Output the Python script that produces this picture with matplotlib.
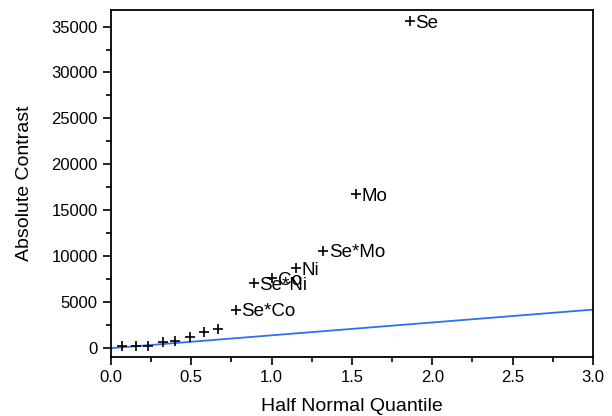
import matplotlib
matplotlib.use('Agg')
import matplotlib.pyplot as plt
from matplotlib.ticker import MultipleLocator

plt.rcParams['font.family'] = ['Liberation Sans', 'DejaVu Sans']

# unlabeled effects
small_q = [0.070, 0.157, 0.234, 0.322, 0.400, 0.491, 0.578, 0.669]
small_c = [250, 250, 250, 690, 830, 1260, 1740, 2090]

# labeled effects
names = ['Se*Co', 'Se*Ni', 'Co', 'Ni', 'Se*Mo', 'Mo', 'Se']
big_q = [0.778, 0.888, 1.006, 1.151, 1.321, 1.528, 1.859]
big_c = [4170, 7070, 7620, 8700, 10620, 16770, 35610]

# reference line
line_q = [0.0, 3.0]
line_c = [0, 4200]

fig = plt.figure(figsize=(6.12, 4.16), dpi=100)
ax = fig.add_axes([0.181, 0.142, 0.788, 0.834])

ax.plot(line_q, line_c, color='#2f6ff0', lw=1.3, zorder=1)
ax.plot(small_q + big_q, small_c + big_c, ls='none', marker='+',
        color='black', ms=6.5, mew=1.2, zorder=2)
for q, c, n in zip(big_q, big_c, names):
    ax.annotate(n, (q, c), xytext=(4, -1.5), textcoords='offset points',
                va='center', ha='left', fontsize=13.5)

ax.set_xlim(0, 3)
ax.set_ylim(-950, 36800)
ax.xaxis.set_major_locator(MultipleLocator(0.5))
ax.xaxis.set_minor_locator(MultipleLocator(0.25))
ax.yaxis.set_major_locator(MultipleLocator(5000))
ax.yaxis.set_minor_locator(MultipleLocator(2500))
ax.xaxis.set_major_formatter(plt.FuncFormatter(lambda v, p: f'{v:.1f}'))
ax.tick_params(which='major', direction='out', length=6, width=1.2, labelsize=12)
ax.tick_params(which='minor', direction='out', length=3.5, width=1.2)
for s in ax.spines.values():
    s.set_linewidth(1.3)

ax.set_xlabel('Half Normal Quantile', fontsize=14, labelpad=9)
ax.set_ylabel('Absolute Contrast', fontsize=14, labelpad=13)

fig.savefig('out.png', dpi=100)
